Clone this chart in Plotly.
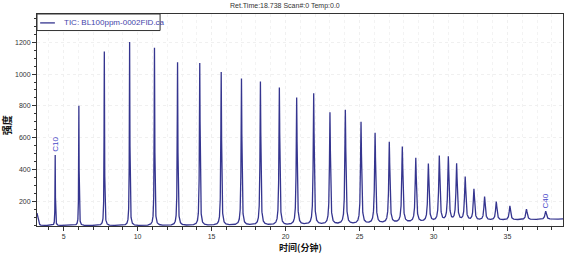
import numpy as np
import plotly.graph_objects as go

# Peak apexes (retention time in min, signal height)
peak_labels = ["C10", "C11", "C12", "C13", "C14", "C15", "C16", "C17", "C18", "C19",
               "C20", "C21", "C22", "C23", "C24", "C25", "C26", "C27", "C28", "C29",
               "C30", "C31", "C32", "C33", "C34", "C35", "C36", "C37", "C38", "C39", "C40"]
peak_times = [4.43, 6.03, 7.75, 9.46, 11.14, 12.70, 14.20, 15.65, 17.02, 18.30,
              19.58, 20.75, 21.90, 23.00, 24.04, 25.10, 26.05, 27.01, 27.89, 28.80,
              29.65, 30.39, 31.00, 31.56, 32.14, 32.73, 33.45, 34.24, 35.16, 36.28, 37.58]
peak_heights = [490, 800, 1142, 1201, 1165, 1073, 1069, 1012, 970, 951,
                913, 850, 877, 757, 772, 697, 627, 570, 540, 470,
                433, 482, 475, 431, 350, 274, 227, 196, 170, 150, 137]

# Baseline levels (time, signal)
base_times = [3.2, 3.3, 3.4, 3.6, 10.0, 20.0, 25.0, 30.0, 34.0, 38.8]
base_values = [125, 70, 50, 47, 46, 49, 55, 70, 80, 88]

x_ticks = [5, 10, 15, 20, 25, 30, 35]
y_ticks = [200, 400, 600, 800, 1000, 1200]

series_name = "TIC: BL100ppm-0002FID.ca"

# Build the trace from the peak table (apex times included exactly)
t = np.union1d(np.arange(3.2, 38.8, 0.004), np.array(peak_times))
base = np.interp(t, base_times, base_values)
signal = base.copy()
for t0, h in zip(peak_times, peak_heights):
    amp = h - np.interp(t0, base_times, base_values)
    w = 0.014 + 0.0013 * (t0 - 4)
    signal += amp / (1 + ((t - t0) / w) ** 2)

line_color = "#35358f"
label_color = "#4848c8"

fig = go.Figure()
fig.add_trace(go.Scatter(x=t, y=signal, mode="lines",
                         line=dict(color=line_color, width=1.3),
                         name=series_name, showlegend=False))

annotations = [
    dict(text="Ret.Time:18.738 Scan#:0 Temp:0.0", xref="paper", yref="paper",
         x=0.471, y=1.0, yanchor="middle", yshift=8, showarrow=False,
         font=dict(size=7, color="#333333", family="Liberation Sans")),
    dict(text="<b>时间(分钟)</b>", xref="paper", yref="paper", x=0.5, y=0,
         yanchor="middle", yshift=-21,
         showarrow=False, font=dict(size=9, color="#111111", family="Noto Sans CJK SC")),
    dict(text="<b>强度</b>", xref="paper", yref="paper", x=-0.055, xanchor="center",
         xshift=-2, y=0.476, textangle=-90,
         showarrow=False, font=dict(size=10, color="#111111", family="Noto Sans CJK SC")),
    # legend text
    dict(text=series_name, xref="paper", yref="paper", x=0.0475, y=0.958,
         xanchor="left", yanchor="middle", showarrow=False,
         font=dict(size=8, color="#4444aa", family="Liberation Sans")),
]
for idx in (0, len(peak_labels) - 1):
    annotations.append(dict(text=peak_labels[idx], x=peak_times[idx], y=peak_heights[idx],
                            xref="x", yref="y", yanchor="bottom", yshift=1, textangle=-90,
                            showarrow=False,
                            font=dict(size=8, color=label_color, family="Liberation Sans")))

shapes = [
    # legend box and sample line
    dict(type="rect", xref="paper", yref="paper", x0=0, x1=0.234, y0=0.922, y1=1,
         line=dict(color="#333333", width=1), fillcolor="white", layer="above"),
    dict(type="line", xref="paper", yref="paper", x0=0.006, x1=0.034, y0=0.958, y1=0.958,
         line=dict(color=line_color, width=1.3), layer="above"),
]

fig.update_layout(
    width=567, height=257,
    margin=dict(l=37, r=4, t=14, b=31),
    paper_bgcolor="white", plot_bgcolor="white",
    showlegend=False,
    annotations=annotations,
    shapes=shapes,
    xaxis=dict(range=[3.2, 38.75], tickvals=x_ticks, ticks="outside", ticklen=4,
               tickcolor="#333333", showline=True, linecolor="#333333", linewidth=1,
               mirror=True, showgrid=True, gridcolor="#f0f0f0", griddash="dot",
               zeroline=False,
               minor=dict(dtick=1, tick0=0, ticks="outside", ticklen=3, tickcolor="#333333",
                          showgrid=True, gridcolor="#f3f3f3", griddash="dot"),
               tickfont=dict(size=7, color="#333333", family="Liberation Sans")),
    yaxis=dict(range=[44, 1378], tickvals=y_ticks, ticks="outside", ticklen=4,
               tickcolor="#333333", showline=True, linecolor="#333333", linewidth=1,
               mirror=True, showgrid=True, gridcolor="#f0f0f0", griddash="dot",
               zeroline=False,
               minor=dict(dtick=50, tick0=0, ticks="outside", ticklen=2, tickcolor="#333333",
                          showgrid=False),
               tickfont=dict(size=7, color="#333333", family="Liberation Sans")),
)

fig.write_html("out.html")
